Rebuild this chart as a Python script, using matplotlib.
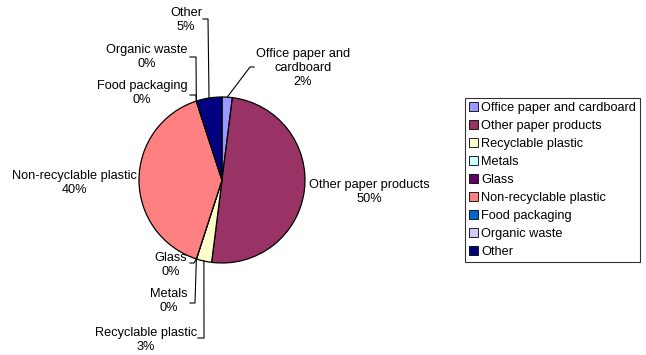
import matplotlib
matplotlib.use("Agg")
import matplotlib.pyplot as plt
import numpy as np

plt.rcParams['font.family'] = ['Liberation Sans', 'DejaVu Sans']

categories = ["Office paper and cardboard", "Other paper products", "Recyclable plastic",
              "Metals", "Glass", "Non-recyclable plastic", "Food packaging",
              "Organic waste", "Other"]
values = [2, 50, 3, 0, 0, 40, 0, 0, 5]
pct_labels = ["2%", "50%", "3%", "0%", "0%", "40%", "0%", "0%", "5%"]
label_text = ["Office paper and\ncardboard", "Other paper products", "Recyclable plastic",
              "Metals", "Glass", "Non-recyclable plastic", "Food packaging",
              "Organic waste", "Other"]
colors = ["#9999FF", "#993366", "#FFFFCC", "#CCFFFF", "#660066",
          "#FF8080", "#0066CC", "#CCCCFF", "#000080"]

W, H = 646, 355
fig = plt.figure(figsize=(W / 100, H / 100), dpi=100)
ax = fig.add_axes([0, 0, 1, 1])

cx, cy, r = 222, H - 180, 83
wedges, _ = ax.pie(values, colors=colors, startangle=90, counterclock=False,
                   center=(cx, cy), radius=r, frame=True,
                   wedgeprops=dict(edgecolor='black', linewidth=0.9))
ax.set_xlim(0, W)
ax.set_ylim(0, H)
ax.set_aspect('equal')
ax.axis('off')

# label layout in pixel coords (x center, y center from top),
# leader (start_x, elbow_x, leader_y from top) or None
layout = [
    (303, 68, (254, 250, 67)),
    (369, 192, None),
    (146, 340, (198, 204, 338)),
    (169, 301, (190, 195, 303)),
    (171, 265, (190, 194, 263)),
    (74, 183, None),
    (142, 93, (190, 196, 95)),
    (147, 57, (190, 196, 57)),
    (186, 20, (203, 208, 19)),
]

fs = 9.2
total = sum(values)
cum = np.cumsum([0] + values)
for i, (x, y, leader) in enumerate(layout):
    txt = label_text[i] + "\n" + pct_labels[i]
    ax.text(x, H - y, txt, ha='center', va='center', fontsize=fs, linespacing=1.25)
    if leader is not None:
        mid = (cum[i] + cum[i + 1]) / 2 / total
        ang = np.deg2rad(90 - 360 * mid)
        px, py = cx + r * np.cos(ang), cy + r * np.sin(ang)
        sx, ex, ly = leader
        ax.plot([sx, ex, px], [H - ly, H - ly, py], color='black', lw=0.8)

handles = [plt.Rectangle((0, 0), 1, 1, facecolor=c, edgecolor='black', linewidth=0.6)
           for c in colors]
leg = fig.legend(handles, categories, loc='upper left',
                 bbox_to_anchor=(465 / W, 1 - 98 / H), fontsize=fs,
                 frameon=True, fancybox=False, shadow=False,
                 handlelength=0.7, handleheight=0.7, handletextpad=0.25,
                 labelspacing=0.47, borderpad=0.3, borderaxespad=0)
leg.get_frame().set_edgecolor('black')
leg.get_frame().set_linewidth(0.8)

fig.savefig("out.png", dpi=100)
